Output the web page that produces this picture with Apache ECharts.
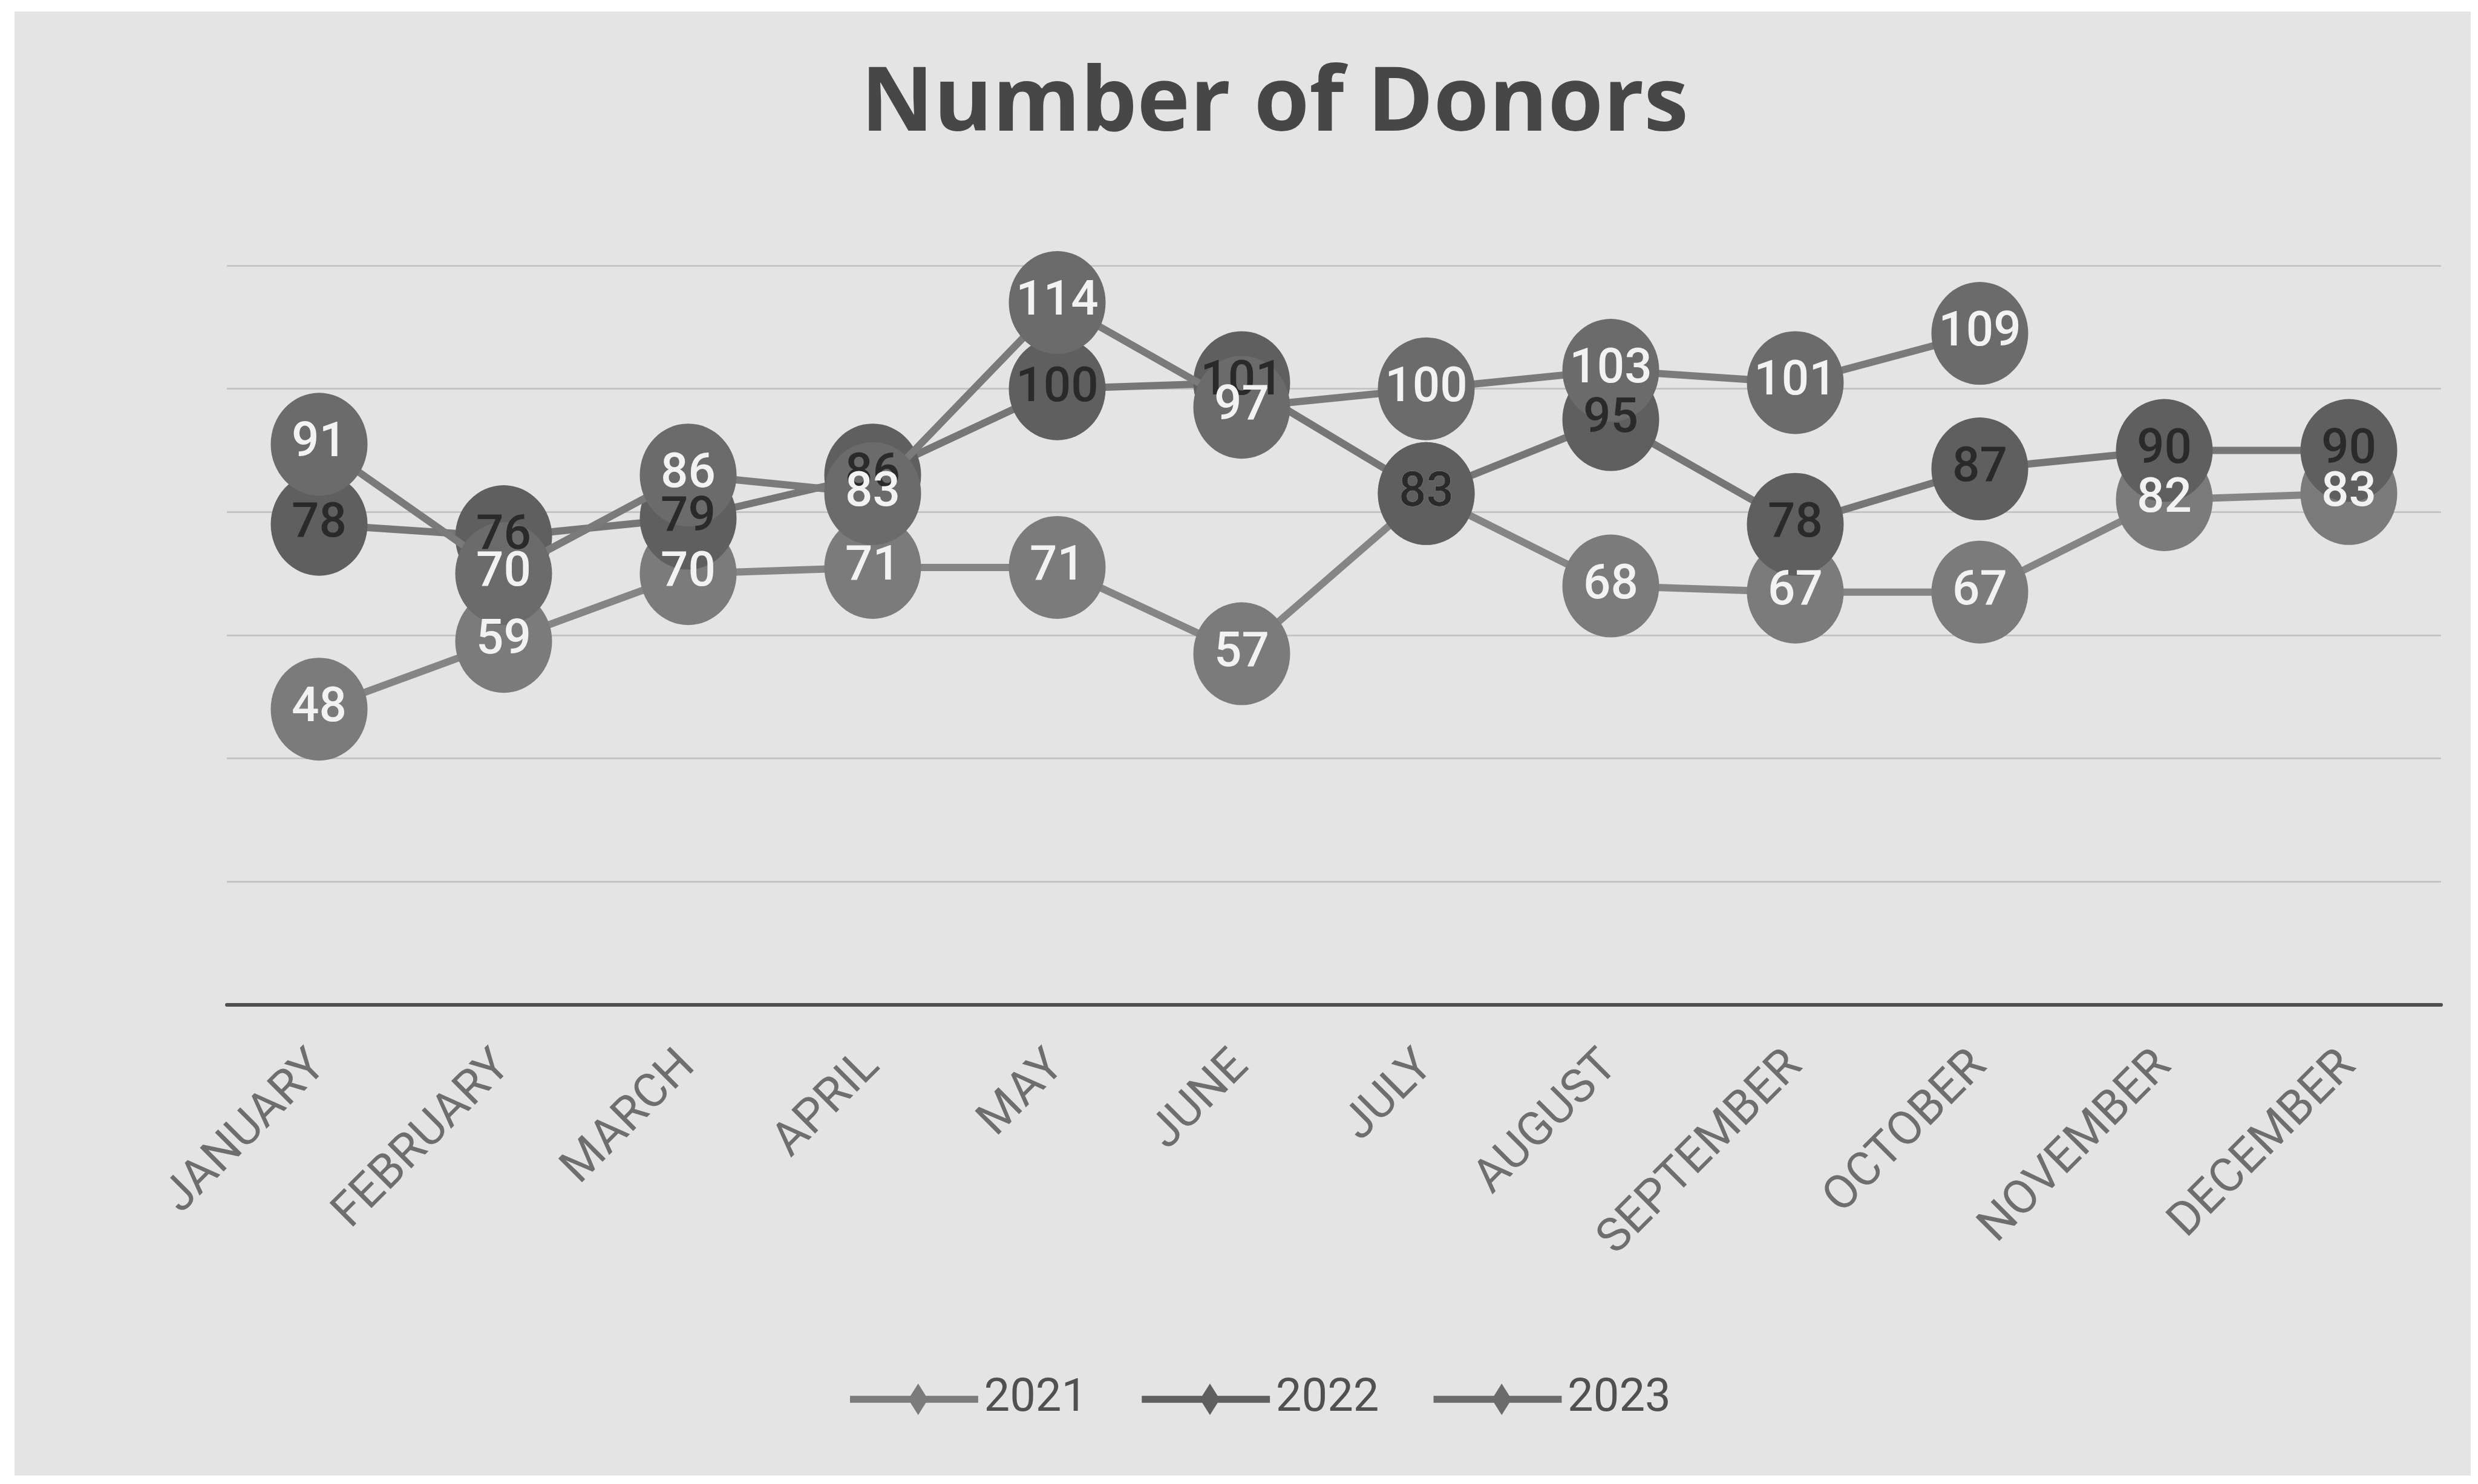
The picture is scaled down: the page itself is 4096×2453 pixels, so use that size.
<!DOCTYPE html>
<html>
<head>
<meta charset="utf-8">
<title>Number of Donors</title>
<script src="https://cdn.jsdelivr.net/npm/echarts@6/dist/echarts.min.js"></script>
<style>
  html, body { margin: 0; padding: 0; background: #ffffff; }
  #chart { width: 4096px; height: 2453px; }
</style>
</head>
<body>
<div id="chart"></div>
<script>
// categories and values
var months = ["JANUARY", "FEBRUARY", "MARCH", "APRIL", "MAY", "JUNE",
  "JULY", "AUGUST", "SEPTEMBER", "OCTOBER", "NOVEMBER", "DECEMBER"];
var years = ["2021", "2022", "2023"];
var donors2021 = [48, 59, 70, 71, 71, 57, 83, 68, 67, 67, 82, 83];
var donors2022 = [78, 76, 79, 86, 100, 101, 83, 95, 78, 87, 90, 90];
var donors2023 = [91, 70, 86, 83, 114, 97, 100, 103, 101, 109];

var chart = echarts.init(document.getElementById("chart"));

// legend icon: line with a diamond in the middle
var legendIcon = "path://M0,21L220,21L220,33L0,33Z M117,0L134,27L117,54L100,27Z";

var markerSize = [160, 170];
var labelFont = "Roboto, 'Liberation Sans', sans-serif";

function yearSeries(name, data, lineColor, markerColor, z) {
  return {
    name: name,
    type: "line",
    data: data,
    z: z,
    symbol: "circle",
    symbolSize: markerSize,
    showAllSymbol: true,
    itemStyle: { color: markerColor },
    lineStyle: { color: lineColor, width: 12 },
    label: { show: false },
    emphasis: { disabled: true }
  };
}

// labels sit above every marker, as in the original spreadsheet chart
function labelSeries(name, data, textColor, z) {
  return {
    name: name + " labels",
    type: "line",
    data: data,
    z: z,
    silent: true,
    symbol: "circle",
    symbolSize: markerSize,
    showAllSymbol: true,
    itemStyle: { color: "rgba(0,0,0,0)" },
    lineStyle: { opacity: 0, width: 0 },
    label: {
      show: true,
      position: "inside",
      color: textColor,
      fontFamily: labelFont,
      fontSize: 80,
      fontWeight: 500
    },
    emphasis: { disabled: true }
  };
}

chart.setOption({
  backgroundColor: "#ffffff",
  animation: false,
  graphic: [{
    type: "rect",
    z: -10,
    shape: { x: 24, y: 19, width: 4060, height: 2420 },
    style: { fill: "#e4e4e4" },
    silent: true
  }],
  title: {
    text: "Number of Donors",
    left: 1418,
    top: 95,
    textStyle: {
      fontFamily: "'Open Sans', sans-serif",
      fontWeight: "bold",
      fontSize: 148,
      lineHeight: 148,
      color: "#474747"
    }
  },
  legend: {
    data: years,
    bottom: 97,
    left: 1400,
    icon: legendIcon,
    itemWidth: 213,
    itemHeight: 52,
    itemGap: 90,
    textStyle: {
      fontFamily: labelFont,
      fontSize: 76,
      color: "#505050",
      padding: [0, 0, 0, 4]
    }
  },
  grid: {
    left: 375,
    right: 61,
    top: 439,
    bottom: 792,
    containLabel: false
  },
  xAxis: {
    type: "category",
    data: months,
    boundaryGap: true,
    axisLine: { lineStyle: { color: "#4f4f4f", width: 6 } },
    axisTick: { show: false },
    axisLabel: {
      rotate: 45,
      margin: 90,
      color: "#6e6e6e",
      fontFamily: labelFont,
      fontSize: 78,
      interval: 0
    }
  },
  yAxis: {
    type: "value",
    min: 0,
    max: 120,
    interval: 20,
    axisLine: { show: false },
    axisTick: { show: false },
    axisLabel: { show: false },
    splitLine: { lineStyle: { color: "#c4c4c4", width: 3 } }
  },
  series: [
    yearSeries("2021", donors2021, "#858585", "#7b7b7b", 2),
    yearSeries("2022", donors2022, "#767676", "#5f5f5f", 3),
    yearSeries("2023", donors2023, "#7a7a7a", "#6b6b6b", 4),
    labelSeries("2021", donors2021, "#f2f2f2", 10),
    labelSeries("2022", donors2022, "#2a2a2a", 11),
    labelSeries("2023", donors2023, "#f2f2f2", 12)
  ]
});
</script>
</body>
</html>
